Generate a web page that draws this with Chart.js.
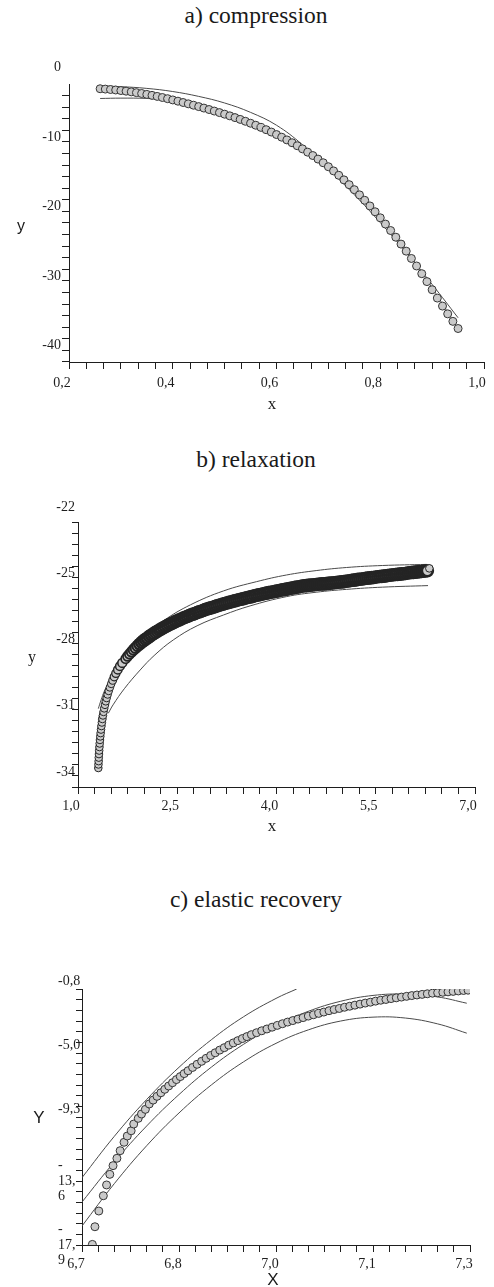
<!DOCTYPE html>
<html lang="en">
<head>
<meta charset="UTF-8">
<title>Compression, relaxation and elastic recovery</title>
<style>
  * { margin: 0; padding: 0; box-sizing: border-box; }
  body { background: #fff; width: 494px; height: 1287px; position: relative; overflow: hidden; }
  canvas { position: absolute; left: 0; }
  .lbl { position: absolute; transform: translate(-50%, -50%); white-space: nowrap; color: #1a1a1a; line-height: 1; }
  .serif { font-family: "Liberation Serif", "Times New Roman", "DejaVu Serif", serif; }
  .sans { font-family: "Liberation Sans", Arial, sans-serif; }
  .title { font-size: 23.5px; }
</style>
<script src="https://cdn.jsdelivr.net/npm/chart.js"></script>
</head>
<body>
  <div class="lbl serif title" style="left:256px; top:16px">a) compression</div>
  <div class="lbl serif title" style="left:256px; top:460px">b) relaxation</div>
  <div class="lbl serif title" style="left:256px; top:900px">c) elastic recovery</div>

  <canvas id="chartA" width="494" height="400" style="top:0"></canvas>
  <canvas id="chartB" width="494" height="340" style="top:480px"></canvas>
  <canvas id="chartC" width="494" height="330" style="top:950px"></canvas>

  <div class="lbl sans" style="left:21px; top:226px; font-size:16px">y</div>
  <div class="lbl serif" style="left:272px; top:403px; font-size:17px">x</div>
  <div class="lbl serif" style="left:32px; top:657px; font-size:16px">y</div>
  <div class="lbl serif" style="left:272px; top:825px; font-size:17px">x</div>
  <div class="lbl sans" style="left:39px; top:1117px; font-size:17px">Y</div>
  <div class="lbl sans" style="left:273px; top:1279px; font-size:17px">X</div>

<script>
  // ---- a) compression ----
  const compX = [0.26, 0.27, 0.28, 0.29, 0.30, 0.31, 0.32, 0.33, 0.34, 0.35,
    0.36, 0.37, 0.38, 0.39, 0.40, 0.41, 0.42, 0.43, 0.44, 0.45,
    0.46, 0.47, 0.48, 0.49, 0.50, 0.51, 0.52, 0.53, 0.54, 0.55,
    0.56, 0.57, 0.58, 0.59, 0.60, 0.61, 0.62, 0.63, 0.64, 0.65,
    0.66, 0.67, 0.68, 0.69, 0.70, 0.71, 0.72, 0.73, 0.74, 0.75,
    0.76, 0.77, 0.78, 0.79, 0.80, 0.81, 0.82, 0.83, 0.84, 0.85,
    0.86, 0.87, 0.88, 0.89, 0.90, 0.91, 0.92, 0.93, 0.94, 0.95];
  const compY = [-2.35, -2.40, -2.46, -2.53, -2.61, -2.70, -2.80, -2.91, -3.03, -3.16,
    -3.30, -3.45, -3.61, -3.78, -3.96, -4.14, -4.33, -4.52, -4.72, -4.92,
    -5.13, -5.34, -5.56, -5.78, -6.01, -6.25, -6.50, -6.76, -7.03, -7.31,
    -7.60, -7.91, -8.24, -8.58, -8.94, -9.32, -9.71, -10.12, -10.55, -11.00,
    -11.47, -11.96, -12.47, -13.00, -13.57, -14.17, -14.80, -15.46, -16.15, -16.87,
    -17.62, -18.40, -19.21, -20.05, -20.92, -21.82, -22.75, -23.71, -24.70, -25.72,
    -26.77, -27.85, -28.96, -30.10, -31.27, -32.47, -33.62, -34.74, -35.82, -36.85];
  const compCurveX = [0.26, 0.30, 0.35, 0.40, 0.45, 0.50, 0.55, 0.60, 0.65, 0.70, 0.75, 0.80, 0.85, 0.90, 0.95];
  const compUpperY = [-1.95, -2.05, -2.30, -2.75, -3.45, -4.40, -5.75, -7.60, -10.40, -13.90, -17.60, -21.60, -25.90, -30.50, -35.30];
  const compLowerY = [-3.75, -3.70, -3.75, -4.05, -4.70, -5.60, -6.90, -8.60, -10.80, -13.50, -16.90, -20.90, -25.60, -31.00, -36.90];
  const compXTicks = [0.2, 0.4, 0.6, 0.8, 1.0];
  const compXLabels = ['0,2', '0,4', '0,6', '0,8', '1,0'];
  const compYTicks = [0, -10, -20, -30, -40];
  const compYLabels = ['0', '-10', '-20', '-30', '-40'];

  // ---- b) relaxation ----
  const relX = [1.307, 1.309, 1.312, 1.314, 1.317, 1.320, 1.324, 1.328, 1.332, 1.337,
    1.342, 1.348, 1.354, 1.361, 1.369, 1.377, 1.386, 1.396, 1.408, 1.420,
    1.433, 1.448, 1.464, 1.482, 1.502, 1.524, 1.547, 1.573, 1.602, 1.634, 1.669,
    1.72, 1.75, 1.78, 1.81, 1.84, 1.87, 1.90, 1.93, 1.96, 1.99,
    2.02, 2.05, 2.08, 2.11, 2.14, 2.17, 2.20, 2.23, 2.26, 2.29,
    2.32, 2.35, 2.38, 2.41, 2.44, 2.47, 2.50, 2.53, 2.56, 2.59,
    2.62, 2.65, 2.68, 2.71, 2.74, 2.77, 2.80, 2.83, 2.86, 2.89,
    2.92, 2.95, 2.98, 3.01, 3.04, 3.07, 3.10, 3.13, 3.16, 3.19,
    3.22, 3.25, 3.28, 3.31, 3.34, 3.37, 3.40, 3.43, 3.46, 3.49,
    3.52, 3.55, 3.58, 3.61, 3.64, 3.67, 3.70, 3.73, 3.76, 3.79,
    3.82, 3.85, 3.88, 3.91, 3.94, 3.97, 4.00, 4.03, 4.06, 4.09,
    4.12, 4.15, 4.18, 4.21, 4.24, 4.27, 4.30, 4.33, 4.36, 4.39,
    4.42, 4.45, 4.48, 4.51, 4.54, 4.57, 4.60, 4.63, 4.66, 4.69,
    4.72, 4.75, 4.78, 4.81, 4.84, 4.87, 4.90, 4.93, 4.96, 4.99,
    5.02, 5.05, 5.08, 5.11, 5.14, 5.17, 5.20, 5.23, 5.26, 5.29,
    5.32, 5.35, 5.38, 5.41, 5.44, 5.47, 5.50, 5.53, 5.56, 5.59,
    5.62, 5.65, 5.68, 5.71, 5.74, 5.77, 5.80, 5.83, 5.86, 5.89,
    5.92, 5.95, 5.98, 6.01, 6.04, 6.07, 6.10, 6.13, 6.16, 6.19,
    6.22, 6.25, 6.28, 6.31];
  const relY = [-33.64, -33.48, -33.33, -33.17, -33.01, -32.85, -32.69, -32.53, -32.37, -32.21,
    -32.06, -31.90, -31.74, -31.58, -31.42, -31.26, -31.10, -30.94, -30.78, -30.62,
    -30.47, -30.31, -30.15, -29.99, -29.83, -29.67, -29.51, -29.35, -29.19, -29.03, -28.88,
    -28.69, -28.58, -28.48, -28.38, -28.28, -28.20, -28.11, -28.03, -27.95, -27.88,
    -27.81, -27.75, -27.68, -27.62, -27.56, -27.50, -27.45, -27.39, -27.34, -27.29,
    -27.24, -27.19, -27.14, -27.10, -27.06, -27.01, -26.97, -26.93, -26.89, -26.85,
    -26.81, -26.78, -26.74, -26.70, -26.67, -26.64, -26.60, -26.57, -26.54, -26.51,
    -26.47, -26.44, -26.41, -26.39, -26.36, -26.33, -26.30, -26.27, -26.25, -26.22,
    -26.19, -26.17, -26.14, -26.12, -26.09, -26.07, -26.04, -26.02, -26.00, -25.98,
    -25.95, -25.93, -25.91, -25.89, -25.87, -25.84, -25.82, -25.80, -25.78, -25.76,
    -25.74, -25.72, -25.70, -25.68, -25.67, -25.65, -25.63, -25.61, -25.59, -25.57,
    -25.56, -25.54, -25.52, -25.50, -25.49, -25.47, -25.45, -25.44, -25.42, -25.40,
    -25.39, -25.38, -25.37, -25.36, -25.35, -25.34, -25.33, -25.32, -25.31, -25.30,
    -25.30, -25.29, -25.28, -25.27, -25.26, -25.25, -25.24, -25.23, -25.22, -25.21,
    -25.20, -25.18, -25.17, -25.16, -25.14, -25.13, -25.12, -25.10, -25.09, -25.08,
    -25.07, -25.05, -25.04, -25.03, -25.02, -25.01, -24.99, -24.98, -24.97, -24.96,
    -24.95, -24.94, -24.92, -24.91, -24.90, -24.89, -24.88, -24.87, -24.86, -24.85,
    -24.84, -24.83, -24.81, -24.80, -24.79, -24.78, -24.77, -24.76, -24.75, -24.74,
    -24.73, -24.72, -24.71, -24.60];
  const relUpperX = [1.307, 1.35, 1.40, 1.48, 1.60, 1.75, 2.00, 2.30, 2.70, 3.20, 3.70, 4.15, 4.60, 5.06, 5.60, 6.27];
  const relUpperY = [-30.95, -30.55, -30.15, -29.70, -29.05, -28.45, -27.65, -26.95, -26.25, -25.62, -25.20, -24.90, -24.70, -24.56, -24.47, -24.42];
  const relMidX = [1.307, 1.35, 1.40, 1.50, 1.70, 2.00, 2.50, 3.00, 3.50, 4.00, 4.50, 5.00, 5.50, 6.00, 6.29];
  const relMidY = [-31.45, -30.95, -30.55, -29.85, -28.75, -27.87, -26.98, -26.39, -25.96, -25.62, -25.36, -25.15, -25.00, -24.90, -24.85];
  const relLowerX = [1.458, 1.53, 1.70, 1.94, 2.15, 2.44, 2.80, 3.20, 3.60, 4.15, 4.60, 5.06, 5.60, 6.29];
  const relLowerY = [-31.16, -30.78, -30.05, -29.20, -28.55, -27.84, -27.20, -26.71, -26.30, -25.88, -25.68, -25.55, -25.45, -25.38];
  const relXTicks = [1.0, 2.5, 4.0, 5.5, 7.0];
  const relXLabels = ['1,0', '2,5', '4,0', '5,5', '7,0'];
  const relYTicks = [-22, -25, -28, -31, -34];
  const relYLabels = ['-22', '-25', '-28', '-31', '-34'];

  // ---- c) elastic recovery ----
  const recX = [6.716, 6.720, 6.726, 6.733, 6.738, 6.743, 6.748, 6.754, 6.759, 6.765,
    6.770, 6.776, 6.780, 6.787, 6.792, 6.798, 6.804,
    6.810, 6.816, 6.822, 6.828, 6.834, 6.840, 6.846, 6.852, 6.858, 6.864,
    6.871, 6.878, 6.885, 6.892, 6.899, 6.906, 6.913, 6.920, 6.927, 6.934,
    6.941, 6.948, 6.955, 6.962, 6.970, 6.978, 6.986, 6.994, 7.002, 7.010,
    7.018, 7.026, 7.034, 7.042, 7.050, 7.058, 7.066, 7.074, 7.082, 7.090,
    7.098, 7.106, 7.114, 7.122, 7.130, 7.138, 7.146, 7.154, 7.162, 7.170,
    7.178, 7.186, 7.194, 7.202, 7.210, 7.218, 7.226, 7.234, 7.242, 7.250,
    7.258, 7.266, 7.274, 7.282, 7.290, 7.297];
  const recY = [-17.86, -16.68, -15.63, -14.61, -13.89, -13.18, -12.60, -12.11, -11.60, -11.04,
    -10.62, -10.27, -9.82, -9.44, -9.15, -8.84, -8.48,
    -8.22, -7.97, -7.73, -7.50, -7.28, -7.06, -6.85, -6.65, -6.45, -6.26,
    -6.04, -5.83, -5.63, -5.43, -5.24, -5.06, -4.88, -4.72, -4.55, -4.40,
    -4.25, -4.11, -3.98, -3.85, -3.72, -3.59, -3.47, -3.35, -3.23, -3.12,
    -3.01, -2.91, -2.81, -2.71, -2.61, -2.52, -2.43, -2.34, -2.25, -2.17,
    -2.10, -2.02, -1.95, -1.88, -1.81, -1.74, -1.68, -1.61, -1.55, -1.50,
    -1.44, -1.39, -1.34, -1.29, -1.24, -1.20, -1.16, -1.12, -1.08, -1.05,
    -1.02, -0.99, -0.96, -0.93, -0.90, -0.88];
  const recUpperX = [6.70, 6.75, 6.80, 6.85, 6.90, 6.95, 7.00, 7.032];
  const recUpperY = [-13.40, -10.64, -8.18, -6.03, -4.19, -2.65, -1.43, -0.80];
  const recCurveX = [6.70, 6.75, 6.80, 6.85, 6.90, 6.95, 7.00, 7.05, 7.10, 7.15, 7.20, 7.25, 7.295];
  const recMidY = [-15.03, -12.35, -9.95, -7.85, -6.02, -4.49, -3.24, -2.29, -1.62, -1.23, -1.14, -1.33, -1.75];
  const recLowerY = [-16.63, -13.80, -11.27, -9.08, -7.21, -5.66, -4.43, -3.53, -2.94, -2.68, -2.74, -3.13, -3.75];
  const recXTicks = [6.7, 6.85, 7.0, 7.15, 7.3];
  const recXLabels = ['6,7', '6,8', '7,0', '7,1', '7,3'];
  const recYTicks = [-0.8, -5.075, -9.35, -13.625, -17.9];
  const recYLabels = [['-0,8', ''], ['-5,0', ''], ['-9,3', ''], ['-', '13,', '6'], ['-', '17,', '9']];

  const INK = '#1e1e1e';
  const TICK_FONT = { family: '"Liberation Serif", "Times New Roman", "DejaVu Serif", serif', size: 14, lineHeight: 1.1 };

  function pts(xs, ys) {
    return xs.map((x, i) => ({ x: x, y: ys[i] }));
  }

  // minor ticks every step between min and max, plus label-only ticks outside the range
  function tickList(min, max, origin, step, extra) {
    const out = [];
    const k0 = Math.ceil((min - origin) / step - 1e-6);
    const k1 = Math.floor((max - origin) / step + 1e-6);
    for (let k = k0; k <= k1; k++) out.push(origin + k * step);
    return out.concat(extra || []);
  }

  function makeAxis(o) {
    const eps = o.step * 0.01;
    return {
      type: 'linear',
      position: o.position,
      min: o.min,
      max: o.max,
      afterBuildTicks: (sc) => { sc.ticks = o.ticks.map(v => ({ value: v })); },
      afterFit: (sc) => {
        if (o.position === 'bottom') sc.height = o.size; else sc.width = o.size;
        // the plot box is fixed by layout.padding, so labels must not push it
        sc.paddingLeft = sc.paddingRight = sc.paddingTop = sc.paddingBottom = 0;
      },
      grid: {
        drawOnChartArea: false,
        tickLength: o.tickLength,
        lineWidth: 1,
        color: INK,
        tickColor: (ctx) => {
          const v = ctx.tick ? ctx.tick.value : 0;
          return (v > o.max + eps || v < o.min - eps) ? 'rgba(0,0,0,0)' : INK;
        }
      },
      border: { display: true, color: INK, width: 1 },
      ticks: {
        autoSkip: false,
        maxRotation: 0,
        minRotation: 0,
        padding: o.padding,
        labelOffset: o.labelOffset,
        crossAlign: o.crossAlign || 'near',
        color: INK,
        font: TICK_FONT,
        callback: (v) => {
          const i = o.majors.findIndex(m => Math.abs(m - v) < eps);
          return i >= 0 ? o.labels[i] : '';
        }
      }
    };
  }

  const dotStyle = {
    showLine: false,
    pointRadius: 4,
    pointBackgroundColor: '#cacaca',
    pointBorderColor: '#353535',
    pointBorderWidth: 1
  };
  const curveStyle = {
    showLine: true,
    pointRadius: 0,
    borderColor: '#4a4a4a',
    borderWidth: 1,
    tension: 0.4,
    fill: false
  };

  function makeChart(id, datasets, xAxis, yAxis, padding) {
    return new Chart(document.getElementById(id), {
      type: 'scatter',
      data: { datasets: datasets },
      options: {
        responsive: false,
        animation: false,
        events: [],
        layout: { padding: padding },
        plugins: { legend: { display: false }, tooltip: { enabled: false } },
        scales: { x: xAxis, y: yAxis }
      }
    });
  }

  // a) plot area: x 69..484, y 84..362
  makeChart('chartA', [
      Object.assign({ data: pts(compX, compY) }, dotStyle),
      Object.assign({ data: pts(compCurveX, compUpperY) }, curveStyle),
      Object.assign({ data: pts(compCurveX, compLowerY) }, curveStyle)
    ],
    makeAxis({ position: 'bottom', min: 0.2, max: 1.0, step: 0.2 / 6,
      ticks: tickList(0.2, 1.0, 0.2, 0.2 / 6), majors: compXTicks, labels: compXLabels,
      size: 30, tickLength: 7, padding: 7, labelOffset: -7 }),
    makeAxis({ position: 'left', min: -41.667, max: -1.667, step: 10 / 6,
      ticks: tickList(-41.667, -1.667, 0, 10 / 6, [0]), majors: compYTicks, labels: compYLabels,
      size: 50, tickLength: 7, padding: 1, labelOffset: -5 }),
    { left: 19, right: 10, top: 84, bottom: 8 });

  // b) plot area: x 78..475, y 522..787 (canvas top 480)
  // the long dense stretch of the record piles up into one dark band: heavier, wider
  // markers there, thin light markers for the steep start and the final reading
  const lastRel = relX.length - 1;
  function bandMix(i) {
    if (i >= lastRel) return 0;
    return Math.max(0, Math.min(1, (i - 24) / 16));
  }
  makeChart('chartB', [
      Object.assign({ data: pts(relX, relY) }, dotStyle, {
        pointBorderColor: '#242424',
        pointRadius: (ctx) => 3.8 + 1.7 * bandMix(ctx.dataIndex),
        pointBorderWidth: (ctx) => 1 + 1.6 * bandMix(ctx.dataIndex)
      }),
      Object.assign({ data: pts(relUpperX, relUpperY) }, curveStyle),
      Object.assign({ data: pts(relMidX, relMidY) }, curveStyle),
      Object.assign({ data: pts(relLowerX, relLowerY) }, curveStyle)
    ],
    makeAxis({ position: 'bottom', min: 1.0, max: 7.0, step: 0.25,
      ticks: tickList(1.0, 7.0, 1.0, 0.25), majors: relXTicks, labels: relXLabels,
      size: 30, tickLength: 7, padding: 5, labelOffset: -7 }),
    makeAxis({ position: 'left', min: -34.5, max: -22.5, step: 0.5,
      ticks: tickList(-34.5, -22.5, -22, 0.5, [-22]), majors: relYTicks, labels: relYLabels,
      size: 50, tickLength: 6, padding: -3, labelOffset: -4 }),
    { left: 28, right: 19, top: 42, bottom: 3 });

  // c) plot area: x 82..470, y 989..1245 (canvas top 950)
  makeChart('chartC', [
      Object.assign({ data: pts(recX, recY) }, dotStyle),
      Object.assign({ data: pts(recUpperX, recUpperY) }, curveStyle),
      Object.assign({ data: pts(recCurveX, recMidY) }, curveStyle),
      Object.assign({ data: pts(recCurveX, recLowerY) }, curveStyle)
    ],
    makeAxis({ position: 'bottom', min: 6.7, max: 7.3, step: 0.025,
      ticks: tickList(6.7, 7.3, 6.7, 0.025), majors: recXTicks, labels: recXLabels,
      size: 30, tickLength: 7, padding: 5, labelOffset: -6 }),
    makeAxis({ position: 'left', min: -17.9, max: -0.8, step: 4.275 / 6,
      ticks: tickList(-17.9, -0.8, -0.8, 4.275 / 6), majors: recYTicks, labels: recYLabels,
      size: 24, tickLength: 6, padding: 0, labelOffset: 0, crossAlign: 'far' }),
    { left: 58, right: 24, top: 39, bottom: 5 });
</script>
</body>
</html>
